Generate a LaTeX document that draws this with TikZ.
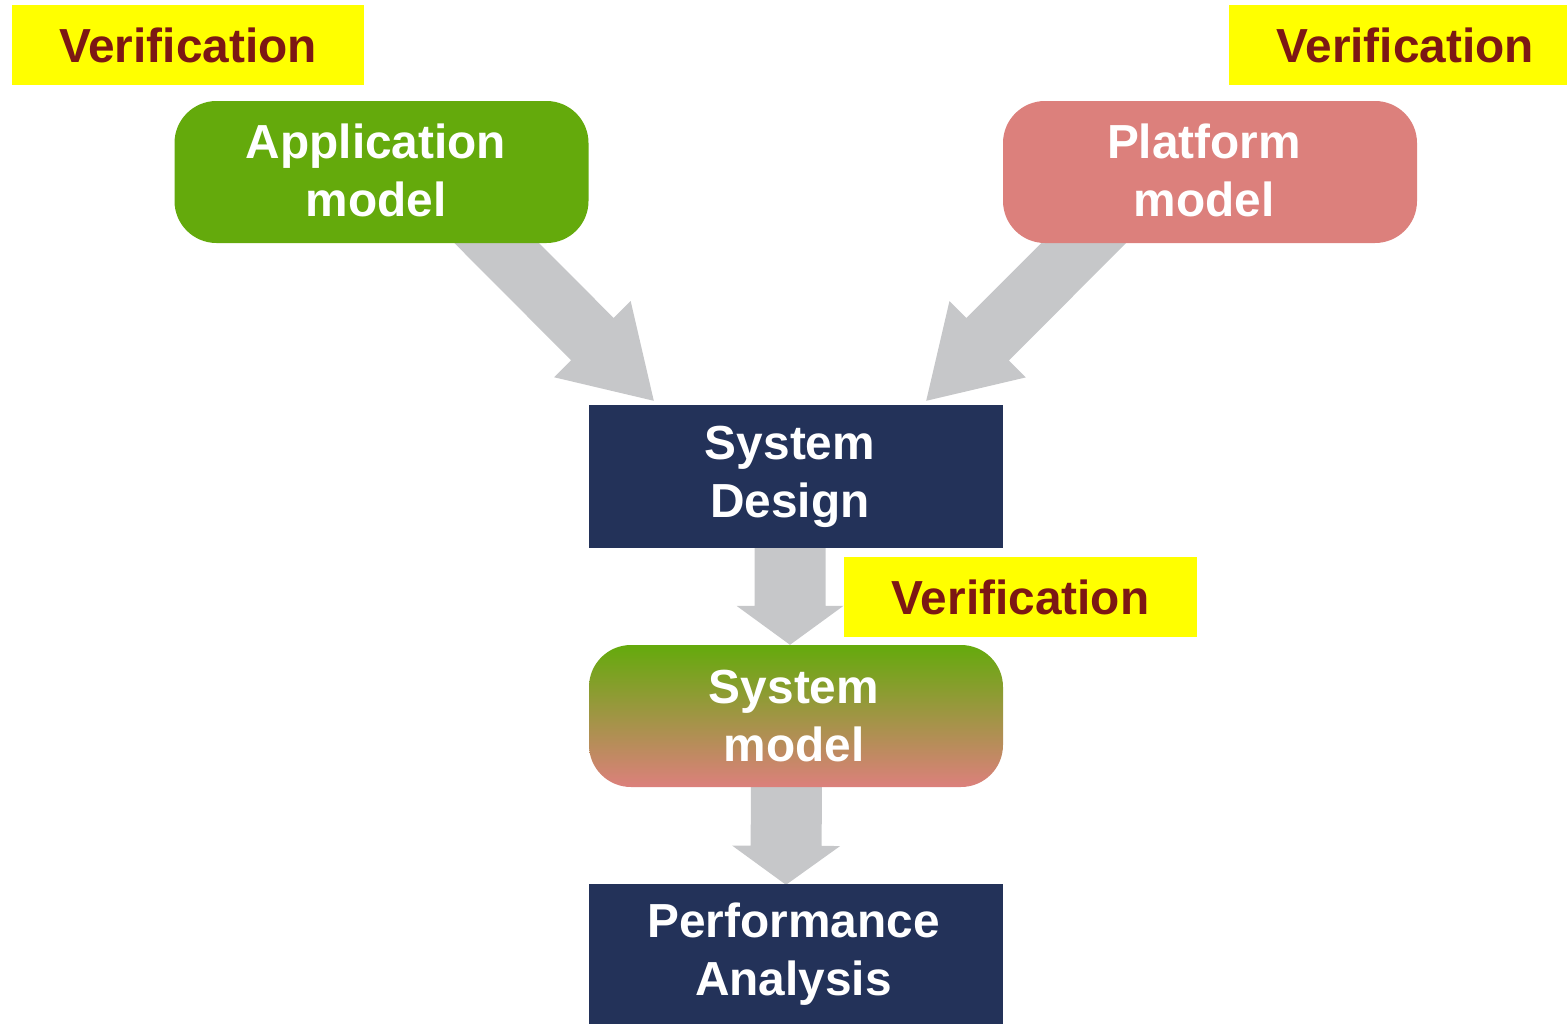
\documentclass[tikz,border=0pt]{standalone}
\usepackage{fontspec}
\setmainfont{Liberation Sans}
\usetikzlibrary{calc}
\pgfdeclarelayer{background}
\pgfsetlayers{background,main}

\definecolor{verifyyellow}{RGB}{255,255,0}
\definecolor{verifytext}{RGB}{124,24,20}
\definecolor{appgreen}{RGB}{100,170,12}
\definecolor{platpink}{RGB}{220,128,124}
\definecolor{designnavy}{RGB}{35,50,89}
\definecolor{arrowgray}{RGB}{198,199,201}

% block arrow: start, tip, shaft half width, head half width, head length
\newcommand\flowarrow[5]{%
  \coordinate (hb) at ($(#2)!#5pt!(#1)$);
  \fill[arrowgray]
    ($(#1)!#3pt!90:(#2)$) -- ($(hb)!#3pt!90:(#2)$) -- ($(hb)!#4pt!90:(#2)$)
    -- (#2)
    -- ($(hb)!#4pt!-90:(#2)$) -- ($(hb)!#3pt!-90:(#2)$) -- ($(#1)!#3pt!-90:(#2)$)
    -- cycle;}

\tikzset{
  bigtext/.style={font=\bfseries\fontsize{47.8}{58}\selectfont, align=center, inner sep=0pt},
  verifybox/.style={bigtext, fill=verifyyellow, text=verifytext,
    minimum width=352, minimum height=80},
  modelbox/.style={inner sep=0pt, minimum width=414, minimum height=142,
    rounded corners=42},
  stepbox/.style={inner sep=0pt, fill=designnavy, minimum width=414,
    minimum height=142},
  boxtext/.style={bigtext, text=white},
}

\begin{document}
\begin{tikzpicture}[x=1pt, y=-1pt]
  \useasboundingbox (0,0) rectangle (1567,1025);

  % labels
  \node[verifybox] (vleft)  at (188,45)    {Verification};
  \node[verifybox] (vright) at (1405,45)   {Verification};
  \node[verifybox, minimum width=353] (vmid) at (1020.5,597) {Verification};

  % models and steps
  \node[modelbox, fill=appgreen] (app)  at (381.5,172) {};
  \node[modelbox, fill=platpink] (plat) at (1210,172)  {};
  \node[stepbox, minimum height=143] (sd) at (796,476.5) {};
  \node[modelbox, top color=appgreen, bottom color=platpink] (sm) at (796,716) {};
  \node[stepbox, minimum height=140] (pa) at (796,954) {};

  \node[boxtext] (appt)  at ($(app)+(-5.5,-2)$)  {Application\\model};
  \node[boxtext] (platt) at ($(plat)+(-6,-2)$)   {Platform\\model};
  \node[boxtext] (sdt)   at ($(sd)+(-6,0)$)      {System\\Design};
  \node[boxtext] (smt)   at ($(sm)+(-2,0)$)      {System\\model};
  \node[boxtext] (pat)   at ($(pa)+(-2.5,0)$)    {Performance\\Analysis};

  % arrow end points
  \coordinate (a1s) at ($(app.south)+(72.5,-43)$);
  \coordinate (a1t) at ($(sd.north west)+(65,-4)$);
  \coordinate (a2s) at ($(plat.south)+(-83.5,-43)$);
  \coordinate (a2t) at ($(sd.north east)+(-77,-4)$);
  \coordinate (d1s) at ($(sd.south)+(-6,-28)$);
  \coordinate (d1t) at ($(sm.north)+(-6,0)$);
  \coordinate (d2s) at ($(sm.south)+(-9.5,-27)$);
  \coordinate (d2t) at ($(pa.north)+(-10,1)$);

  \begin{pgfonlayer}{background}
    \flowarrow{a1s}{a1t}{30}{54}{87}
    \flowarrow{a2s}{a2t}{30}{54}{87}
    \flowarrow{d1s}{d1t}{35.5}{53.5}{39}
    \flowarrow{d2s}{d2t}{35.5}{54}{39}
  \end{pgfonlayer}
\end{tikzpicture}
\end{document}
